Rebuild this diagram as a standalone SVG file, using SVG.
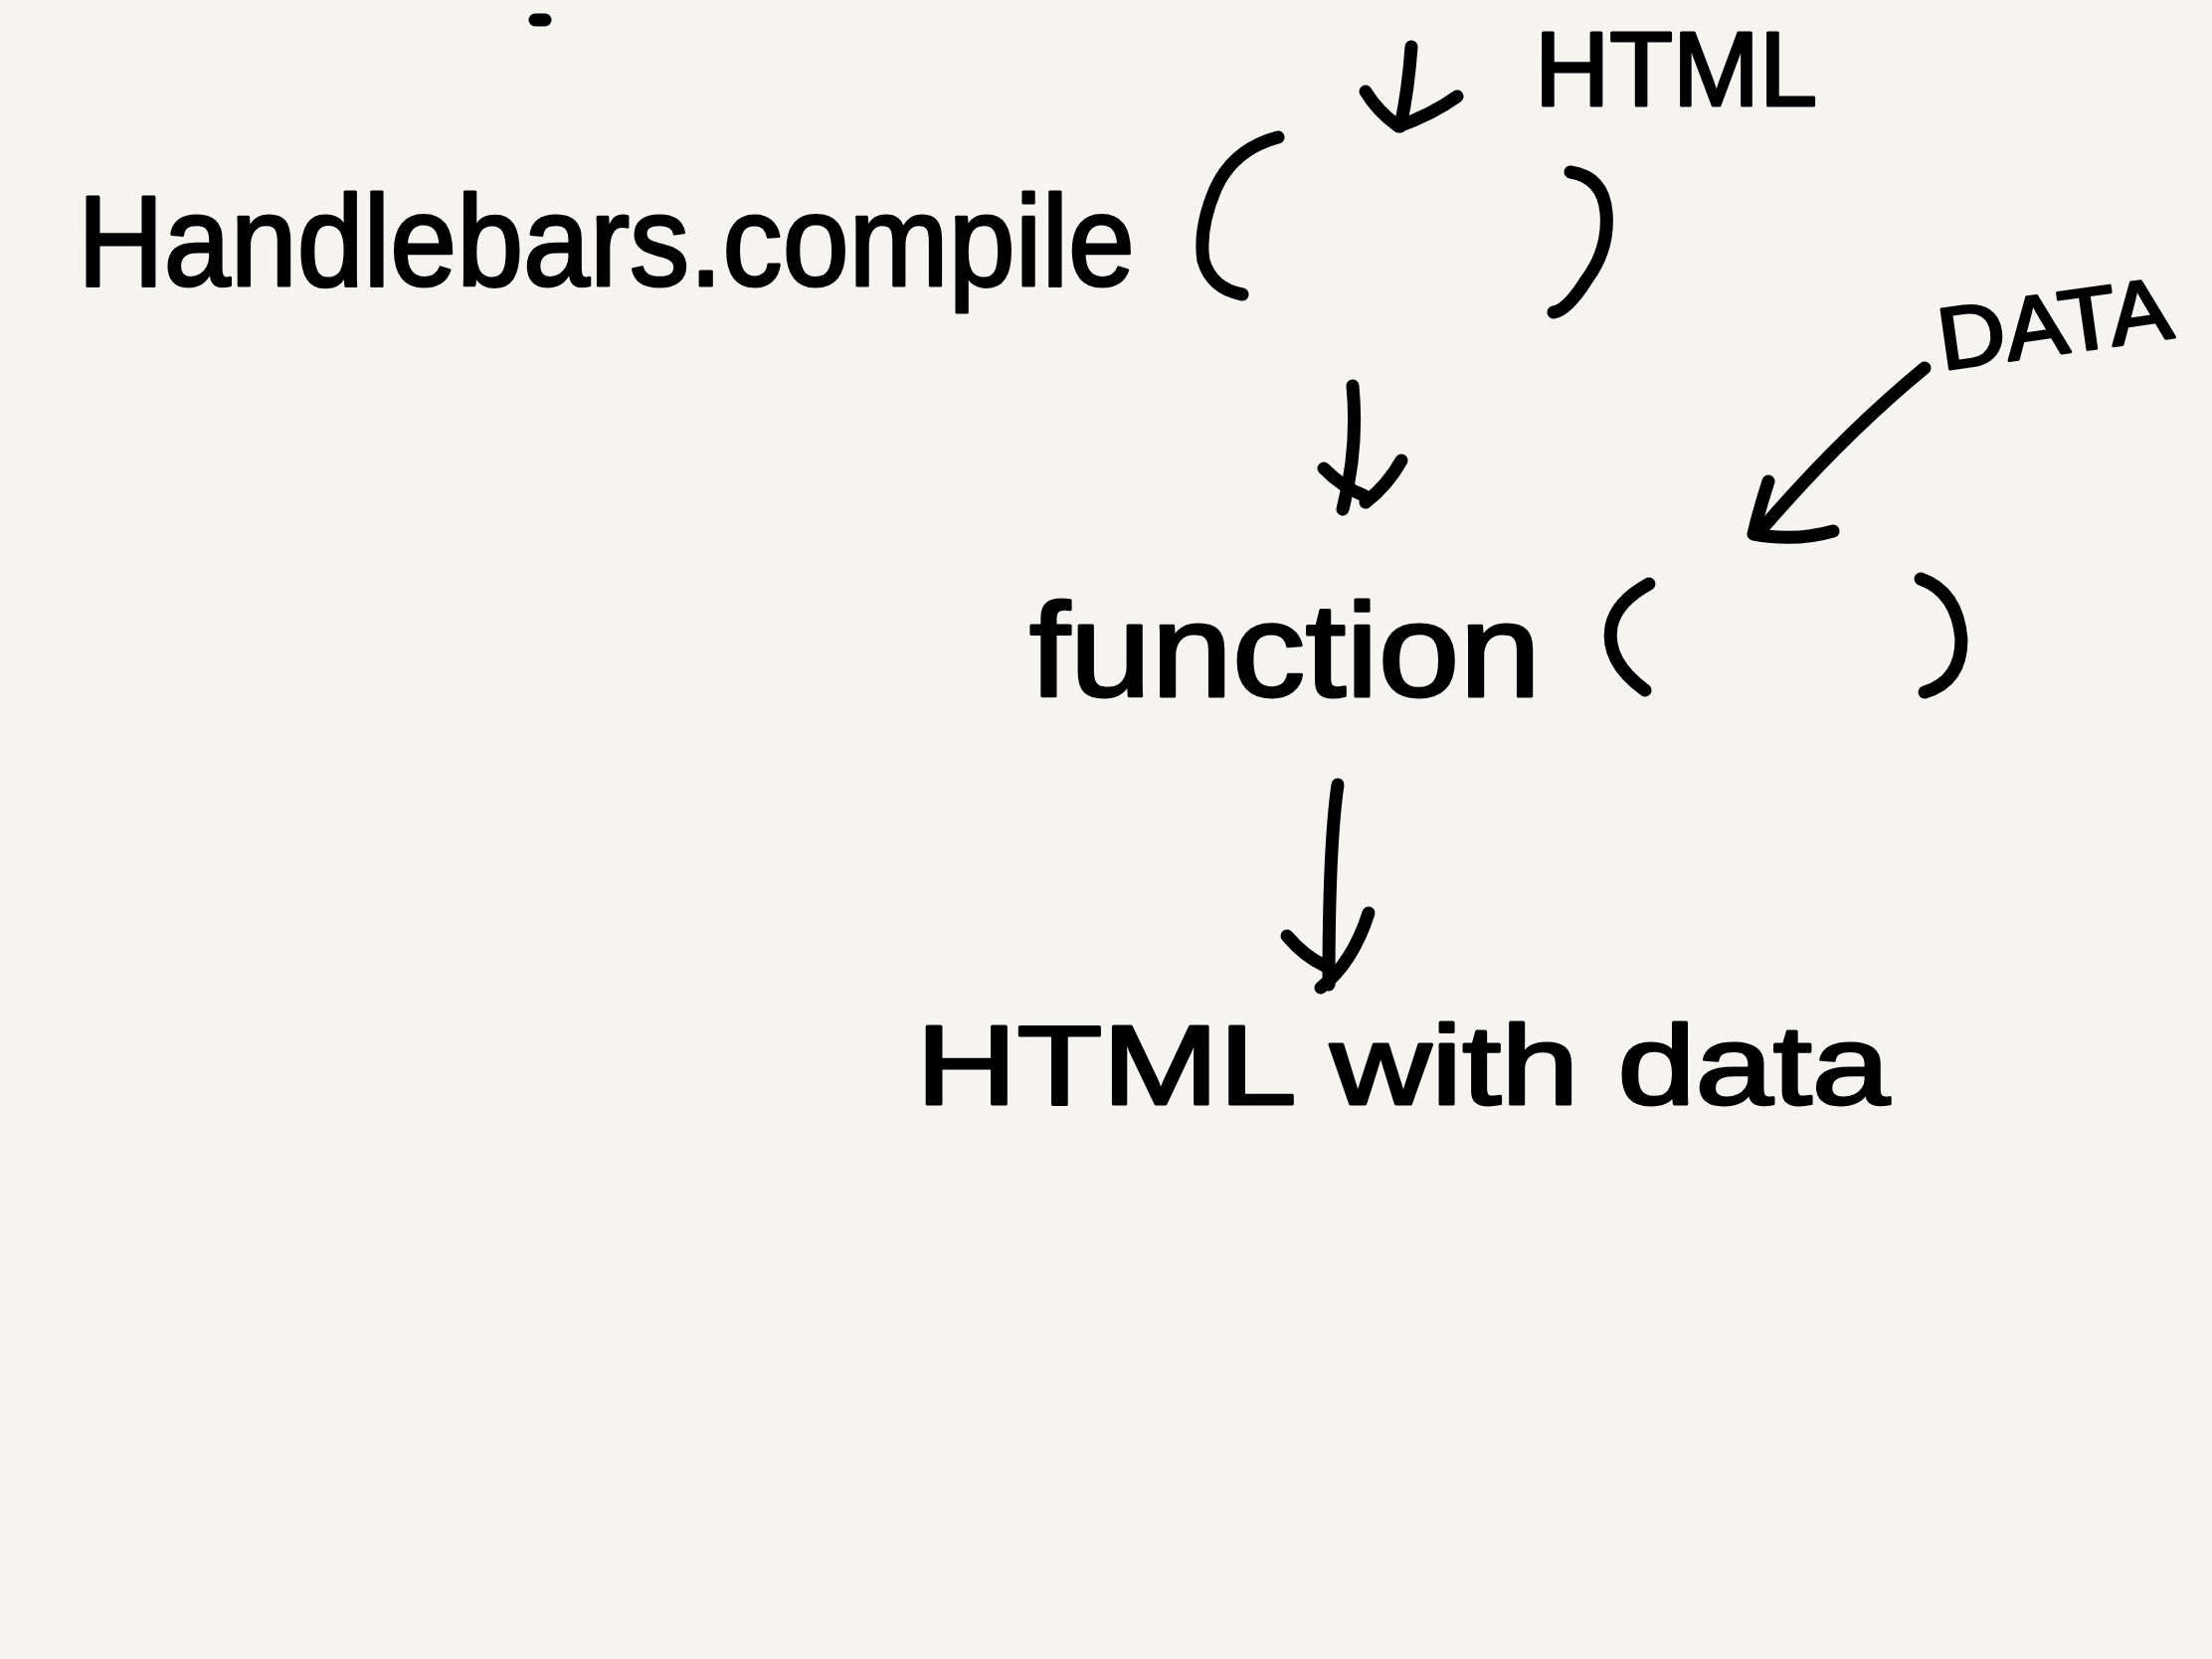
<svg xmlns="http://www.w3.org/2000/svg" width="2224" height="1668" viewBox="0 0 2224 1668">
<style>
.ink{fill:none;stroke:#000;stroke-width:13;stroke-linecap:round;stroke-linejoin:round}
.txt{font-family:"Liberation Sans","DejaVu Sans",sans-serif;fill:#000;stroke:#000;stroke-width:3;stroke-linejoin:round}
</style>
<rect width="2224" height="1668" fill="#f5f4f0"/>
<path class="ink" d="M538 20 L548 20"/>
<g id="handlebars-compile">
<text class="txt" x="78" y="287" font-size="130" textLength="1063" lengthAdjust="spacingAndGlyphs">Handlebars.compile</text>
<path class="ink" d="M1285 138 Q1240 150 1222 190 Q1205 230 1210 262 Q1218 290 1249 296"/>
<path class="ink" d="M1579 173 Q1612 178 1615 214 Q1618 250 1596 280 Q1576 312 1562 314"/>
</g>
<g id="html-input">
<text class="txt" x="1543" y="106" font-size="106" textLength="284" lengthAdjust="spacingAndGlyphs">HTML</text>
</g>
<g id="data-input">
<text class="txt" x="1953" y="372" font-size="88" textLength="236" lengthAdjust="spacingAndGlyphs" transform="rotate(-8 1953 372)">DATA</text>
</g>
<g id="function">
<text class="txt" x="1035" y="700" font-size="134" textLength="514" lengthAdjust="spacingAndGlyphs">function</text>
<path class="ink" d="M1658 587 Q1625 605 1620 630 Q1614 665 1654 694"/>
<path class="ink" d="M1931 582 Q1968 595 1972 643 Q1972 685 1935 696"/>
</g>
<g id="html-with-data">
<text class="txt" x="921" y="1110" font-size="114" textLength="979" lengthAdjust="spacingAndGlyphs">HTML with data</text>
</g>
<g id="connectors">
<path class="ink" d="M1419 47 Q1416 90 1408 127"/>
<path class="ink" d="M1373 92 Q1385 112 1406 127 Q1440 115 1465 97"/>
<path class="ink" d="M1360 388 Q1366 450 1350 512"/>
<path class="ink" d="M1331 471 Q1350 490 1371 498"/>
<path class="ink" d="M1409 463 Q1395 488 1373 505"/>
<path class="ink" d="M1935 370 Q1850 440 1768 536"/>
<path class="ink" d="M1778 484 Q1768 515 1763 537 Q1805 545 1843 534"/>
<path class="ink" d="M1345 789 Q1336 850 1336 990"/>
<path class="ink" d="M1294 941 Q1312 962 1332 971"/>
<path class="ink" d="M1376 918 Q1360 968 1328 993"/>
</g>
</svg>
